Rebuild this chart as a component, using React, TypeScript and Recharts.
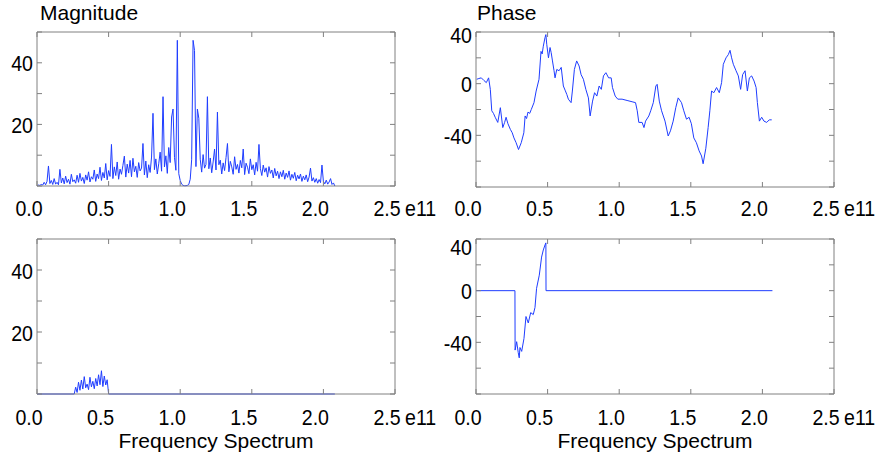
import { LineChart, Line, XAxis, YAxis, ReferenceLine } from "recharts";

// frequency in units of 1e9 (axis shows x1e11)
const FREQ_TICKS = [0, 50, 100, 150, 200, 250];
const MAG_TICKS = [0, 10, 20, 30, 40, 50];
const MAG_LABELS = [20, 40];
const PHASE_TICKS = [-80, -60, -40, -20, 0, 20, 40];
const PHASE_LABELS = [-40, 0, 40];

// full magnitude spectrum, one value per 1e9 step starting at 0
const MAG_FULL = [
  0, 0.3, 0.2, 0.5, 0.3, 1.2, 0.4, 1.5, 6.5, 0.8,
  1.8, 0.5, 2.4, 0.6, 1.2, 0.4, 5.4, 1.0, 2.6, 0.7,
  3.2, 1.1, 2.2, 0.6, 3.8, 1.4, 2.0, 0.9, 3.5, 1.2,
  4.1, 1.6, 2.8, 0.8, 3.6, 1.9, 4.6, 1.3, 3.0, 2.2,
  5.2, 1.5, 3.9, 2.4, 6.1, 1.8, 4.4, 2.6, 7.3, 2.0,
  5.0, 3.1, 13.5, 2.4, 6.2, 3.4, 7.8, 2.2, 5.5, 3.8,
  6.7, 9.7, 2.9, 7.1, 4.2, 8.3, 3.0, 9.0, 4.6, 6.4,
  2.8, 7.6, 4.9, 5.8, 13.8, 3.6, 8.1, 2.7, 6.9, 4.4,
  9.4, 23.6, 5.3, 8.8, 3.9, 7.2, 11.0, 4.8, 29.0, 6.2,
  9.8, 4.1, 12.5, 7.6, 22.4, 25.0, 9.3, 5.1, 47.3, 4.0,
  1.8, 0.6, 0.2, 0.1, 0.1, 0.2, 0.5, 2.2, 8.5, 47.3,
  44.0, 6.3, 25.0, 22.0, 8.7, 4.5, 10.2, 5.8, 7.0, 29.0,
  5.6, 9.1, 4.3, 7.8, 12.0, 5.2, 24.0, 6.9, 8.4, 3.9,
  7.5, 5.0, 9.2, 13.8, 4.6, 8.0, 6.2, 3.8, 9.5, 5.4,
  7.0, 4.2, 8.3, 5.9, 12.0, 3.7, 7.4, 6.1, 4.0, 8.8,
  5.3, 6.9, 3.6, 7.7, 4.8, 13.5, 5.6, 3.4, 6.8, 4.5,
  5.9, 2.9, 6.3, 4.1, 5.2, 2.6, 5.7, 3.3, 4.8, 2.4,
  4.6, 3.0, 5.1, 2.2, 4.2, 2.8, 4.9, 1.9, 3.8, 2.5,
  4.4, 1.7, 3.5, 2.3, 3.9, 1.5, 3.2, 2.0, 3.6, 1.4,
  2.9, 5.8, 1.6, 2.7, 1.2, 2.4, 0.9, 2.1, 1.1, 6.8,
  1.5, 0.7, 1.9, 0.6, 1.3, 2.4, 0.5, 1.0, 0,
];

// filtered magnitude: band 27..49, zero elsewhere up to 208
const MAG_BAND_FREQ = [0, 26, 27, 28, 29, 30, 31, 32, 33, 34, 35, 36, 37, 38, 39, 40, 41, 42, 43, 44, 45, 46, 47, 48, 49, 50, 208];
const MAG_BAND = [0, 0, 2.2, 0.5, 3.8, 1.2, 4.5, 1.6, 5.6, 2.0, 3.2, 1.4, 5.4, 2.3, 4.1, 1.7, 5.0, 2.6, 6.2, 3.0, 7.5, 2.4, 5.8, 2.9, 4.6, 0, 0];

const PHASE_FULL_FREQ = [
  0.5, 2, 3.7, 5.5, 7.2, 8.8, 10, 11, 12.2, 13.4, 15.2, 17, 18.7, 20, 21, 22.3, 24, 25.3, 26.5, 28,
  29.7, 31.6, 33.4, 34.3, 35.3, 36.3, 37.5, 38.6, 40.5, 42, 44, 45.4, 46.2, 47, 48.2, 48.8, 49.4, 50.6, 51.7, 52.5,
  53.4, 54.5, 55.2, 56.4, 58, 59.5, 61, 62.2, 63.4, 64.5, 66.4, 67.3, 68.7, 70.3, 72, 73.4, 75, 76.7, 78.5, 79.7,
  81.4, 82.8, 84.4, 86, 87.5, 89, 90.7, 92.6, 94.4, 95.3, 97.2, 99, 102, 105.5, 109, 111.4, 112.6, 113.7, 116, 117.3,
  118.4, 120.7, 122, 123.8, 125.6, 126.5, 128, 129.6, 132, 134.2, 135.8, 137.7, 139.5, 141.2, 143.5, 145.1, 147, 148.8, 150.4, 152.1,
  153.9, 155.8, 157.5, 158.6, 160.5, 162.1, 163.3, 164.5, 166.1, 168, 169.9, 171.5, 172.7, 174.6, 176.2, 177.4, 178.5, 179.7, 181.6, 183.2,
  184.8, 186.2, 187.9, 189.5, 190.9, 192.5, 194.2, 195.6, 196.5, 197.9, 199.5, 201.1, 203, 204.8, 206.5,
];
const PHASE_FULL = [
  3.4, 4, 4.5, 2.5, 0.8, 4.5, -4.4, -21, -23, -26, -30, -18.6, -34, -30, -26, -31, -35.4, -38, -42, -45.7,
  -51, -45.7, -38, -25, -27, -22, -23, -20, -14.7, -5.7, 3.4, 25, 23, 29, 35.7, 38, 30.5, 20, 28, 24,
  17.6, 10, 4.5, 11, 10, 12.6, -1.8, -5, -8.3, -12, -14.7, -5.7, 11, 17.6, 13.7, 7, 3.4, -4.4, -11, -25,
  -13.5, -7, -9.6, -1.8, -4.4, 6, 8.5, 4.5, 4.5, -3, -9.6, -12, -12, -13, -14, -14.7, -21, -30, -30, -34,
  -29, -25, -21, -14.7, -1.8, -0.5, -13.5, -21, -29, -40.5, -36.5, -29, -18.6, -11, -14.7, -21, -27.5, -26, -31, -42,
  -45.7, -52, -56, -62, -50, -34, -21, -5.7, -7, -3, -7, 0.8, 15, 20, 22.5, 25.8, 20, 15, 10, 6,
  -4.4, 7, 10, -5.7, 4.5, 6, 2, -3, -14.7, -29, -26, -29, -30, -28, -28,
];

const PHASE_BAND_FREQ = [0, 27.2, 27.3, 28.4, 29.5, 30.2, 30.7, 31.9, 33.5, 34.9, 36.5, 38.2, 40, 41.2, 42.3, 44.2, 45.8, 47, 48.2, 48.8, 48.9, 207];
const PHASE_BAND = [0, 0, -46, -39.5, -48, -52, -44, -47, -37, -20, -25, -17, -18.5, -13, 1.8, 12, 26, 31.5, 35.4, 37, 0, 0];

const BOX = "#808080";
const LINE = "#1f3dff";
const TICK = 5;
const FONT = "'Liberation Sans', Arial, Helvetica, sans-serif";

const magFullData = MAG_FULL.map((v, i) => ({ f: i, v }));
const magBandData = MAG_BAND_FREQ.map((f, i) => ({ f, v: MAG_BAND[i] }));
const phaseFullData = PHASE_FULL_FREQ.map((f, i) => ({ f, v: PHASE_FULL[i] }));
const phaseBandData = PHASE_BAND_FREQ.map((f, i) => ({ f, v: PHASE_BAND[i] }));

const makeXTick = (plotTop: number, baseline: number) => (props: any) => {
  const { x, y, payload } = props;
  const v = payload.value as number;
  return (
    <g>
      <line x1={x} x2={x} y1={y} y2={y - TICK} stroke={BOX} />
      <line x1={x} x2={x} y1={plotTop} y2={plotTop + TICK} stroke={BOX} />
      <text
        transform={`translate(${x - 8},${y + baseline}) scale(0.89,1)`}
        textAnchor="middle"
        fontSize={22}
        fontFamily={FONT}
        fill="#000"
      >
        {(v / 100).toFixed(1)}
      </text>
      {v === 250 && (
        <text
          transform={`translate(${x + 10},${y + baseline}) scale(0.89,1)`}
          textAnchor="start"
          fontSize={22}
          fontFamily={FONT}
          fill="#000"
        >
          e11
        </text>
      )}
    </g>
  );
};

const makeYTick =
  (plotRight: number, labels: number[], topValue: number, topNudge: number) =>
  (props: any) => {
    const { x, y, payload } = props;
    const v = payload.value as number;
    const dy = 8.5 + (v === topValue ? topNudge : 0);
    return (
      <g>
        <line x1={x} x2={x + TICK} y1={y} y2={y} stroke={BOX} />
        <line x1={plotRight} x2={plotRight - TICK} y1={y} y2={y} stroke={BOX} />
        {labels.includes(v) && (
          <text
            transform={`translate(${x - 4},${y + dy}) scale(0.89,1)`}
            textAnchor="end"
            fontSize={22}
            fontFamily={FONT}
            fill="#000"
          >
            {v}
          </text>
        )}
      </g>
    );
  };

interface PanelProps {
  left: number;
  top: number;
  width: number;
  height: number;
  plotLeft: number;
  plotTop: number;
  plotRight: number;
  plotBottom: number;
  data: { f: number; v: number }[];
  yDomain: [number, number];
  yTicks: number[];
  yLabels: number[];
  xBaseline: number;
  topNudge?: number;
}

const Panel = (p: PanelProps) => {
  const mTop = p.plotTop - p.top;
  const mRight = p.left + p.width - p.plotRight;
  const yAxisW = p.plotLeft - p.left;
  const xAxisH = p.top + p.height - p.plotBottom;
  const localRight = p.plotRight - p.left;
  return (
    <div style={{ position: "absolute", left: p.left, top: p.top }}>
      <LineChart
        width={p.width}
        height={p.height}
        data={p.data}
        margin={{ top: mTop, right: mRight, left: 0, bottom: 0 }}
      >
        <XAxis
          dataKey="f"
          type="number"
          domain={[0, 250]}
          ticks={FREQ_TICKS}
          height={xAxisH}
          axisLine={{ stroke: BOX }}
          tickLine={false}
          tickSize={0}
          tickMargin={0}
          tick={makeXTick(mTop, p.xBaseline)}
          interval={0}
        />
        <YAxis
          type="number"
          domain={p.yDomain}
          ticks={p.yTicks}
          width={yAxisW}
          axisLine={{ stroke: BOX }}
          tickLine={false}
          tickSize={0}
          tickMargin={0}
          tick={makeYTick(localRight, p.yLabels, p.yDomain[1], p.topNudge ?? 0)}
          interval={0}
        />
        <ReferenceLine y={p.yDomain[1]} stroke={BOX} />
        <ReferenceLine x={250} stroke={BOX} />
        <Line
          type="linear"
          dataKey="v"
          stroke={LINE}
          strokeWidth={1}
          dot={false}
          isAnimationActive={false}
        />
      </LineChart>
    </div>
  );
};

export default function App() {
  return (
    <div
      style={{
        position: "fixed",
        left: 0,
        top: 0,
        width: 885,
        height: 465,
        background: "#fff",
        overflow: "hidden",
      }}
    >
      <Panel
        left={0} top={0} width={445} height={230}
        plotLeft={37} plotTop={32} plotRight={395} plotBottom={186}
        data={magFullData}
        yDomain={[0, 50]} yTicks={MAG_TICKS} yLabels={MAG_LABELS}
        xBaseline={30}
      />
      <Panel
        left={440} top={0} width={445} height={230}
        plotLeft={476} plotTop={32} plotRight={834} plotBottom={187}
        data={phaseFullData}
        yDomain={[-80, 40]} yTicks={PHASE_TICKS} yLabels={PHASE_LABELS}
        xBaseline={29}
        topNudge={2}
      />
      <Panel
        left={0} top={225} width={445} height={240}
        plotLeft={37} plotTop={239} plotRight={395} plotBottom={394}
        data={magBandData}
        yDomain={[0, 50]} yTicks={MAG_TICKS} yLabels={MAG_LABELS}
        xBaseline={31}
      />
      <Panel
        left={440} top={225} width={445} height={240}
        plotLeft={476} plotTop={239} plotRight={834} plotBottom={394}
        data={phaseBandData}
        yDomain={[-80, 40]} yTicks={PHASE_TICKS} yLabels={PHASE_LABELS}
        xBaseline={31}
        topNudge={7}
      />
      <svg
        width={885}
        height={465}
        style={{ position: "absolute", left: 0, top: 0, pointerEvents: "none" }}
      >
        <g fontFamily={FONT} fontSize={21} fill="#000">
          <text x={40} y={20}>Magnitude</text>
          <text x={477} y={20}>Phase</text>
          <text x={216} y={448} textAnchor="middle">Frequency Spectrum</text>
          <text x={655} y={448} textAnchor="middle">Frequency Spectrum</text>
        </g>
      </svg>
    </div>
  );
}
